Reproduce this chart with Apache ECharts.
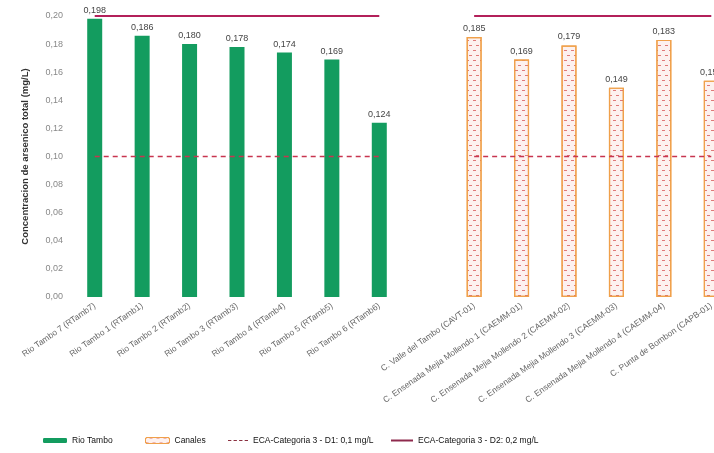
<!DOCTYPE html>
<html>
<head>
<meta charset="utf-8">
<script src="https://cdn.jsdelivr.net/npm/echarts@6/dist/echarts.min.js"></script>
<style>html,body{margin:0;padding:0;background:#fff}#c{width:714px;height:453px}</style>
</head>
<body>
<div id="c"></div>
<script>
var categories = [
  'Rio Tambo 7 (RTamb7)', 'Rio Tambo 1 (RTamb1)', 'Rio Tambo 2 (RTamb2)', 'Rio Tambo 3 (RTamb3)',
  'Rio Tambo 4 (RTamb4)', 'Rio Tambo 5 (RTamb5)', 'Rio Tambo 6 (RTamb6)', '',
  'C. Valle del Tambo (CAVT-01)', 'C. Ensenada Mejia Mollendo 1 (CAEMM-01)',
  'C. Ensenada Mejia Mollendo 2 (CAEMM-02)', 'C. Ensenada Mejia Mollendo 3 (CAEMM-03)',
  'C. Ensenada Mejia Mollendo 4 (CAEMM-04)', 'C. Punta de Bombon (CAPB-01)'
];
var rioTambo = [0.198, 0.186, 0.180, 0.178, 0.174, 0.169, 0.124, null, null, null, null, null, null, null];
var canales  = [null, null, null, null, null, null, null, null, 0.185, 0.169, 0.179, 0.149, 0.183, 0.154];
var ecaD1 = [0.1, 0.1, 0.1, 0.1, 0.1, 0.1, 0.1, null, 0.1, 0.1, 0.1, 0.1, 0.1, 0.1];
var ecaD2 = [0.2, 0.2, 0.2, 0.2, 0.2, 0.2, 0.2, null, 0.2, 0.2, 0.2, 0.2, 0.2, 0.2];
var names = ['Rio Tambo', 'Canales', 'ECA-Categoria 3 - D1: 0,1 mg/L', 'ECA-Categoria 3 - D2: 0,2 mg/L'];

var fmt = function (v) { return v.toFixed(3).replace('.', ','); };
var chart = echarts.init(document.getElementById('c'));
var legendText = { fontSize: 8.5, color: '#111', fontWeight: 'normal', fontFamily: 'Liberation Sans Narrow, Arial Narrow, Liberation Sans, sans-serif' };
chart.setOption({
  animation: false,
  backgroundColor: '#fff',
  grid: { left: 71, width: 664, top: 16, bottom: 156, containLabel: false, outerBoundsMode: 'none' },
  legend: [
    { data: [names[0]], left: 38, top: 431, itemWidth: 24, itemHeight: 5, itemGap: 5, textStyle: legendText },
    { data: [names[1]], left: 140, top: 431, itemWidth: 24, itemHeight: 6, itemGap: 2, textStyle: legendText,
      itemStyle: { borderWidth: 1 } },
    { data: [{ name: names[2], icon: 'path://M0,0h3v1h-3z M5,0h3v1h-3z M10,0h3v1h-3z M15,0h3v1h-3z' }],
      left: 223, top: 431, itemWidth: 20, itemHeight: 1.5, itemGap: 4, textStyle: legendText },
    { data: [{ name: names[3], icon: 'rect' }], left: 386, top: 431, itemWidth: 22, itemHeight: 2, itemGap: 2, textStyle: legendText }
  ],
  xAxis: {
    type: 'category',
    data: categories,
    axisLine: { show: false },
    axisTick: { show: false },
    axisLabel: { interval: 0, rotate: 35, fontSize: 8.5, color: '#666', margin: 8,
      fontFamily: 'Liberation Sans, sans-serif' }
  },
  yAxis: {
    type: 'value', min: 0, max: 0.2, interval: 0.02,
    name: 'Concentracion de arsenico total (mg/L)',
    nameLocation: 'middle', nameGap: 41, nameRotate: 90,
    nameTextStyle: { fontSize: 9.5, fontWeight: 'bold', color: '#333', fontFamily: 'Liberation Sans, sans-serif' },
    axisLine: { show: false }, axisTick: { show: false },
    splitLine: { show: false },
    axisLabel: { fontSize: 9, color: '#888', margin: 8,
      formatter: function (v) { return v.toFixed(2).replace('.', ','); } }
  },
  series: [
    { name: names[0], type: 'bar', data: rioTambo, barWidth: 15, barGap: '-100%',
      itemStyle: { color: '#139c5f' },
      label: { show: true, position: 'top', fontSize: 9, color: '#444', distance: 4, formatter: function (p) { return fmt(p.value); } } },
    { name: names[1], type: 'bar', data: canales, barWidth: 15,
      itemStyle: { color: '#fdf1ef', borderColor: '#f0a04a', borderWidth: 1.2,
        decal: { symbol: 'rect', symbolSize: 1, color: 'rgba(210,70,70,0.7)', dashArrayX: [[3, 4], [0, 4, 3, 0]], dashArrayY: [1, 4], rotation: 0 } },
      label: { show: true, position: 'top', fontSize: 9, color: '#444', distance: 4, formatter: function (p) { return fmt(p.value); } } },
    { name: names[2], type: 'line', data: ecaD1, symbol: 'none', connectNulls: false,
      lineStyle: { color: '#c8354f', width: 1.5, type: [5, 4] }, itemStyle: { color: '#8a3040' } },
    { name: names[3], type: 'line', data: ecaD2, symbol: 'none', connectNulls: false,
      lineStyle: { color: '#b3205a', width: 2 }, itemStyle: { color: '#8e2a4d' } }
  ]
});
</script>
</body>
</html>
